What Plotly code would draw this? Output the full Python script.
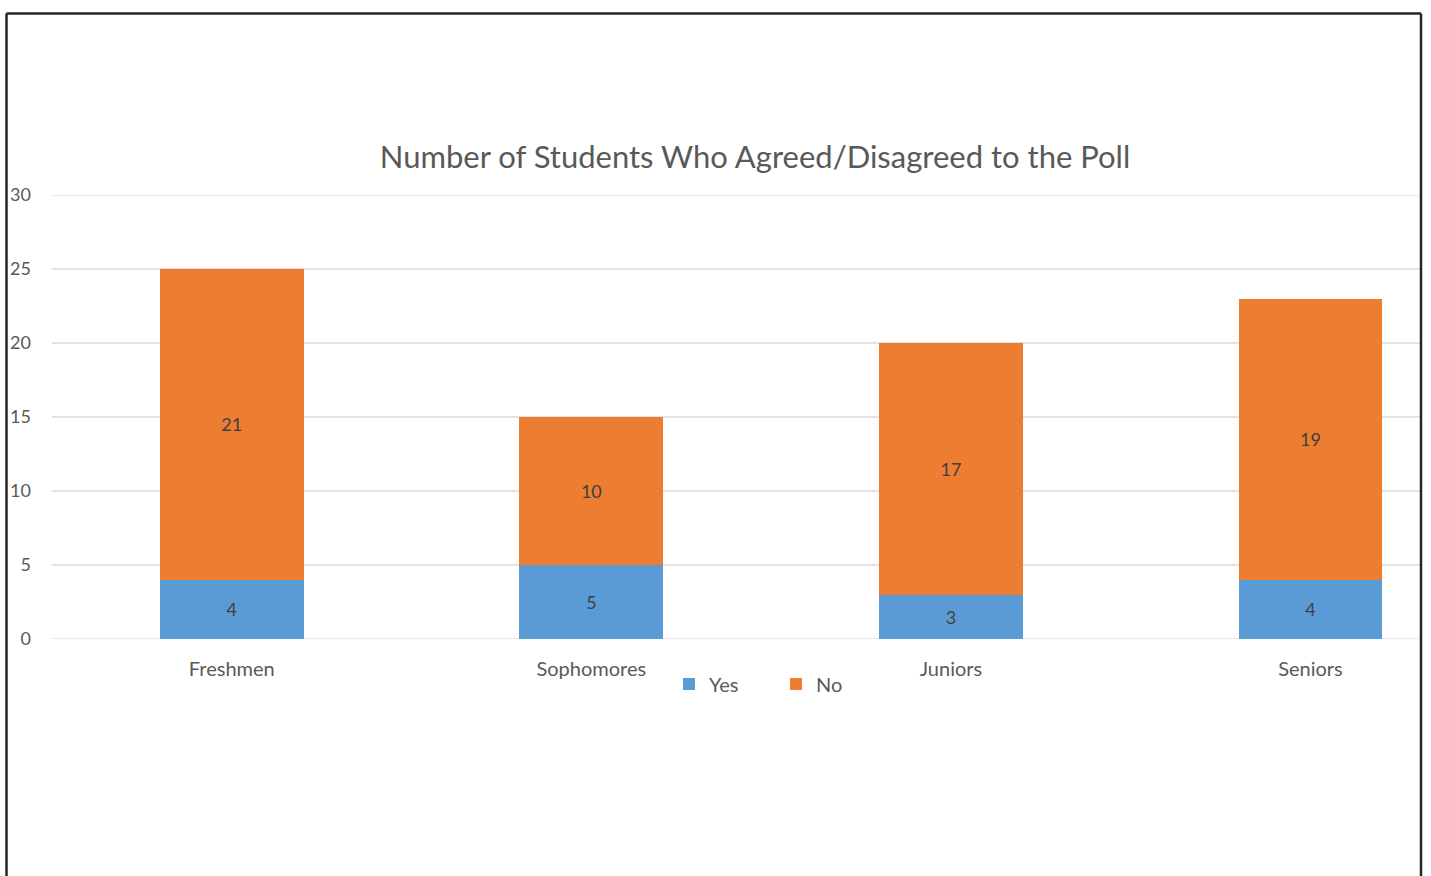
import plotly.graph_objects as go

categories = ["Freshmen", "Sophomores", "Juniors", "Seniors"]
yes_values = [4, 5, 3, 4]
no_values = [21, 10, 17, 19]
y_ticks = [0, 5, 10, 15, 20, 25, 30]

W, H = 1431, 876
ML, MR, MT, MB = 52, 11, 195, 237
pw = W - ML - MR
ph = H - MT - MB

def px_x(px):
    return (px - ML) / pw

def px_y(py):
    return (H - MB - py) / ph

label_font = dict(color="#404040", size=18, family="Lato")
grid_color = "#E3E3E3"

fig = go.Figure()
fig.add_trace(go.Bar(
    x=categories, y=yes_values, name="Yes",
    marker=dict(color="#5B9BD5", line=dict(width=0)),
    text=yes_values, textposition="inside", insidetextanchor="middle",
    textfont=label_font, width=0.4,
))
fig.add_trace(go.Bar(
    x=categories, y=no_values, name="No",
    marker=dict(color="#ED7D31", line=dict(width=0)),
    text=no_values, textposition="inside", insidetextanchor="middle",
    textfont=label_font, width=0.4,
))

frame_color = "#262626"
shapes = [
    dict(type="line", xref="paper", yref="y", x0=0, x1=1, y0=y_ticks[0], y1=y_ticks[0],
         line=dict(color=grid_color, width=1.5), layer="below"),
    dict(type="line", xref="paper", yref="y", x0=0, x1=1, y0=y_ticks[-1], y1=y_ticks[-1],
         line=dict(color=grid_color, width=1.5), layer="below"),
    dict(type="line", xref="paper", yref="paper", x0=px_x(6.5), x1=px_x(1421), y0=px_y(13.5), y1=px_y(13.5),
         line=dict(color=frame_color, width=2.5)),
    dict(type="line", xref="paper", yref="paper", x0=px_x(6.5), x1=px_x(6.5), y0=px_y(13.5), y1=px_y(880),
         line=dict(color=frame_color, width=2.5)),
    dict(type="line", xref="paper", yref="paper", x0=px_x(1421), x1=px_x(1421), y0=px_y(13.5), y1=px_y(880),
         line=dict(color=frame_color, width=2.5)),
]

fig.update_layout(
    width=W, height=H,
    margin=dict(l=ML, r=MR, t=MT, b=MB, pad=0),
    barmode="stack",
    paper_bgcolor="white", plot_bgcolor="white",
    font=dict(family="Lato", color="#595959"),
    title=dict(text="Number of Students Who Agreed/Disagreed to the Poll",
               x=px_x(755), xref="paper", xanchor="center",
               y=1 - 157 / H, yref="container", yanchor="middle",
               font=dict(size=31, color="#595959", family="Lato")),
    xaxis=dict(range=[-0.5, (1420 - 232) / 359.5], showgrid=False, zeroline=False,
               showline=False, ticks="", tickfont=dict(size=20, color="#595959"),
               ticklabelstandoff=16, fixedrange=True),
    yaxis=dict(range=[0, 30], tickvals=y_ticks, showgrid=True, gridcolor=grid_color, gridwidth=1.5,
               zeroline=False, showline=False, ticks="",
               tickfont=dict(size=18, color="#595959"), ticklabelstandoff=20),
    legend=dict(orientation="h", x=px_x(776), xanchor="center", y=px_y(684), yanchor="middle",
                font=dict(size=20, color="#595959"), traceorder="normal", itemwidth=30,
                entrywidth=62, entrywidthmode="pixels",
                bgcolor="rgba(0,0,0,0)"),
    shapes=shapes,
)

fig.write_html("out.html")
